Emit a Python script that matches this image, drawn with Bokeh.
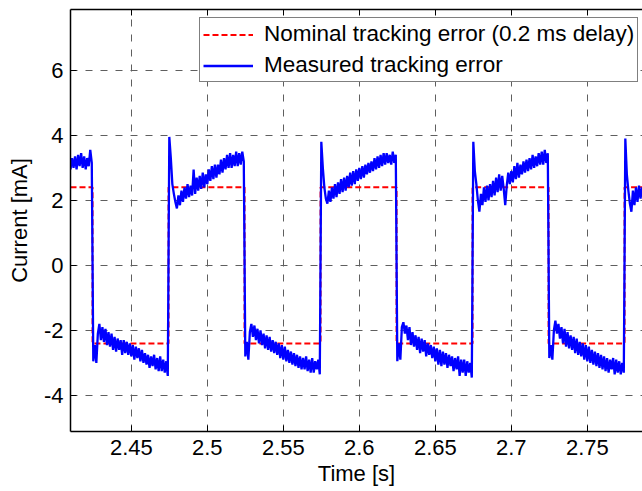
import numpy as np
from bokeh.plotting import figure
from bokeh.models import FixedTicker, LinearAxis, Range1d, Legend, LegendItem
from bokeh.embed import file_html
from bokeh.resources import INLINE

# ---------------- data ----------------
x_ticks = [2.45, 2.5, 2.55, 2.6, 2.65, 2.7, 2.75]
x_tick_labels = ["2.45", "2.5", "2.55", "2.6", "2.65", "2.7", "2.75"]
y_ticks = [-4, -2, 0, 2, 4, 6]
y_tick_labels = ["-4", "-2", "0", "2", "4", "6"]

# nominal tracking error (0.2 ms delay): switching times and levels [mA]
nominal_times = [2.41, 2.4245, 2.4745, 2.5245, 2.5745, 2.6245, 2.6745, 2.7245, 2.7745, 2.79]
nominal_levels = [2.4, -2.4, 2.4, -2.4, 2.4, -2.4, 2.4, -2.4, 2.4, 2.4]

# measured tracking error, sampled every 1 ms, one list per half period
sample_step = 0.001
segment_starts = [2.410, 2.425, 2.475, 2.525, 2.575, 2.625, 2.675, 2.725, 2.775]

seg0 = [2.95, 3.3, 3.0, 3.35, 2.95, 3.4, 3.05, 3.45, 3.0, 3.35, 2.95, 3.3, 3.05, 3.55, 3.15]
seg1 = [-2.95, -2.45, -3.0, -2.1, -1.8, -2.3, -1.9, -2.35, -1.95, -2.45,
        -2.05, -2.5, -2.1, -2.6, -2.2, -2.65, -2.25, -2.6, -2.3, -2.75,
        -2.3, -2.7, -2.35, -2.75, -2.4, -2.8, -2.45, -2.9, -2.5, -2.85,
        -2.55, -2.95, -2.6, -3.0, -2.7, -3.05, -2.75, -3.15, -2.8, -3.1,
        -2.75, -3.2, -2.85, -3.25, -2.8, -3.25, -2.9, -3.3, -2.95, -3.4]
seg2 = [3.95, 3.3, 2.5, 2.2, 1.95, 1.75, 2.15, 1.85, 2.3, 1.95,
        2.4, 2.05, 2.5, 2.1, 2.45, 2.15, 2.95, 2.2, 2.7, 2.3,
        2.75, 2.35, 2.85, 2.4, 2.8, 2.5, 2.95, 2.6, 3.05, 2.65,
        3.1, 2.7, 3.1, 2.8, 3.25, 2.85, 3.3, 2.95, 3.4, 3.0,
        3.45, 3.0, 3.4, 3.05, 3.5, 3.05, 3.45, 3.1, 3.5, 3.2]
seg3 = [-2.8, -2.35, -2.9, -2.05, -1.8, -2.2, -1.85, -2.3, -1.95, -2.4,
        -2.0, -2.45, -2.1, -2.55, -2.15, -2.6, -2.2, -2.65, -2.3, -2.7,
        -2.35, -2.75, -2.4, -2.85, -2.45, -2.9, -2.5, -2.95, -2.6, -3.0,
        -2.65, -3.05, -2.7, -3.1, -2.75, -3.15, -2.8, -3.2, -2.85, -3.2,
        -2.8, -3.25, -2.9, -3.3, -2.85, -3.3, -2.95, -3.2, -2.9, -3.35]
seg4 = [3.8, 3.0, 2.4, 2.05, 1.9, 2.3, 1.95, 2.4, 2.05, 2.5,
        2.1, 2.55, 2.2, 2.65, 2.25, 2.7, 2.3, 2.75, 2.4, 2.85,
        2.45, 2.9, 2.5, 2.95, 2.6, 3.0, 2.65, 3.05, 2.7, 3.1,
        2.8, 3.15, 2.85, 3.2, 2.9, 3.3, 2.95, 3.35, 3.0, 3.4,
        3.05, 3.45, 3.1, 3.45, 3.15, 3.4, 3.1, 3.5, 3.15, 3.4]
seg5 = [-2.95, -2.4, -2.9, -1.9, -1.75, -2.1, -1.85, -2.3, -1.9, -2.45,
        -2.05, -2.5, -2.15, -2.6, -2.2, -2.7, -2.25, -2.65, -2.3, -2.8,
        -2.4, -2.75, -2.45, -2.85, -2.5, -2.95, -2.55, -3.05, -2.6, -3.1,
        -2.65, -3.05, -2.7, -3.15, -2.75, -3.1, -2.8, -3.25, -2.85, -3.2,
        -2.8, -3.4, -2.9, -3.3, -2.9, -3.4, -2.95, -3.3, -3.0, -3.45]
seg6 = [3.8, 2.9, 2.5, 2.0, 1.65, 2.2, 1.85, 2.4, 1.95, 2.45,
        2.0, 2.5, 2.1, 2.6, 2.15, 2.7, 2.25, 2.8, 2.3, 2.75,
        2.35, 1.85, 2.45, 2.85, 2.5, 2.9, 2.55, 3.05, 2.65, 3.15,
        2.7, 3.1, 2.8, 3.2, 2.85, 3.25, 2.9, 3.3, 2.95, 3.4,
        3.0, 3.35, 3.05, 3.45, 3.1, 3.5, 3.1, 3.55, 3.15, 3.45]
seg7 = [-2.85, -2.45, -2.9, -2.0, -1.7, -2.1, -1.8, -2.25, -1.9, -2.4,
        -1.95, -2.5, -2.05, -2.55, -2.15, -2.6, -2.2, -2.7, -2.25, -2.75,
        -2.35, -2.8, -2.4, -2.9, -2.45, -2.95, -2.5, -3.0, -2.6, -3.05,
        -2.65, -3.1, -2.7, -3.15, -2.75, -3.2, -2.8, -3.25, -2.85, -3.3,
        -2.9, -3.2, -2.85, -3.35, -2.9, -3.3, -2.95, -3.35, -3.0, -3.3]
seg8 = [3.9, 2.8, 2.3, 1.9, 1.65, 2.3, 1.85, 2.4, 1.95, 2.45, 2.05, 2.4]

segments = [seg0, seg1, seg2, seg3, seg4, seg5, seg6, seg7, seg8]
meas_t = np.concatenate([s0 + sample_step * np.arange(len(seg))
                         for s0, seg in zip(segment_starts, segments)])
meas_v = np.concatenate([np.array(seg, dtype=float) for seg in segments])

# ---------------- figure ----------------
FONT = "Liberation Sans"

p = figure(width=642, height=491, output_backend="svg", toolbar_location=None,
           x_range=Range1d(2.41, 2.7863), y_range=Range1d(-5.11, 7.87),
           min_border_left=70, min_border_right=0, min_border_top=9, min_border_bottom=60)
p.outline_line_color = None
p.background_fill_color = "white"
p.border_fill_color = "white"

r_nom = p.step(nominal_times, nominal_levels, mode="after", line_color="#ff0000",
               line_width=2, line_dash="6 3")
r_meas = p.line(meas_t, meas_v, line_color="#0000ff", line_width=2.3)

# axes
xa = p.xaxis[0]
ya = p.yaxis[0]
for ax in (xa, ya):
    ax.major_tick_in = 6
    ax.major_tick_out = 0
    ax.minor_tick_line_color = None
    ax.axis_line_color = "black"
    ax.axis_line_width = 1.5
    ax.major_tick_line_color = "black"
    ax.major_label_text_font = FONT
    ax.major_label_text_font_size = "22px"
    ax.major_label_text_color = "black"
    ax.axis_label_text_font = FONT
    ax.axis_label_text_font_size = "22px"
    ax.axis_label_text_font_style = "normal"
    ax.axis_label_text_color = "black"

xa.ticker = FixedTicker(ticks=x_ticks)
xa.major_label_overrides = dict(zip(x_ticks, x_tick_labels))
xa.axis_label = "Time [s]"
xa.major_label_standoff = 8
xa.axis_label_standoff = 3

ya.ticker = FixedTicker(ticks=y_ticks)
ya.major_label_overrides = dict(zip(y_ticks, y_tick_labels))
ya.axis_label = "Current [mA]"
ya.major_label_standoff = 7
ya.axis_label_standoff = 9

# top box edge with inward ticks (no labels)
top = LinearAxis(ticker=FixedTicker(ticks=x_ticks), major_tick_in=6, major_tick_out=0,
                 minor_tick_line_color=None, axis_line_color="black", axis_line_width=1.5,
                 major_label_overrides={t: "" for t in x_ticks},
                 major_label_text_font_size="1px", major_label_standoff=0)
p.add_layout(top, "above")

# grid
for g in (p.xgrid[0], p.ygrid[0]):
    g.grid_line_color = "#5f5f5f"
    g.grid_line_width = 1
    g.grid_line_dash = "7 8"
p.xgrid[0].ticker = FixedTicker(ticks=x_ticks)
p.ygrid[0].ticker = FixedTicker(ticks=y_ticks)

legend = Legend(items=[
    LegendItem(label="Nominal tracking error (0.2 ms delay)", renderers=[r_nom]),
    LegendItem(label="Measured tracking error", renderers=[r_meas]),
], location=(129, 349))
legend.label_text_font = FONT
legend.label_text_font_size = "22.5px"
legend.label_text_color = "black"
legend.glyph_width = 50
legend.glyph_height = 25
legend.label_height = 25
legend.padding = 3
legend.spacing = 5
legend.label_standoff = 11
legend.margin = 0
legend.border_line_color = "black"
legend.border_line_width = 1
legend.background_fill_color = "white"
legend.background_fill_alpha = 1
p.add_layout(legend)

open("out.html", "w").write(file_html(p, INLINE))
